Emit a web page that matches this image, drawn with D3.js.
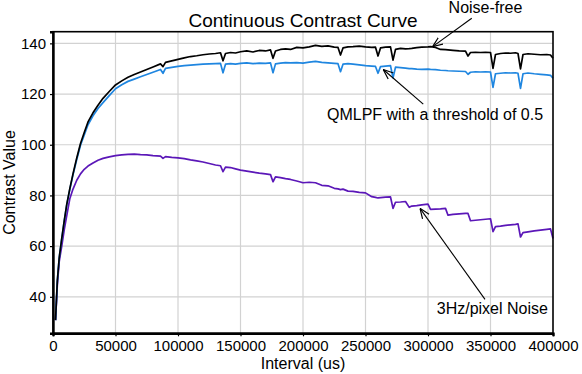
<!DOCTYPE html>
<html>
<head>
<meta charset="utf-8">
<script src="https://cdn.jsdelivr.net/npm/d3@7"></script>
<style>
  body { margin: 0; background: #fff; }
  svg { display: block; font-family: "Liberation Sans", Arial, sans-serif; }
</style>
</head>
<body>
<svg width="582" height="374"></svg>
<script>
// shared x values (us)
const intervals = [2000, 3500, 5000, 7000, 9000, 11000, 13500, 16000, 19000, 22000,
  25000, 28000, 32000, 36000, 40000, 45000, 50000, 55000, 60000, 65000,
  70000, 75000, 80000, 86000, 88000, 90000, 95000, 100000, 105000, 110000,
  115000, 120000, 125000, 130000, 134000, 136000, 138000, 142000, 146000, 150000,
  155000, 160000, 165000, 170000, 174000, 176000, 178000, 182000, 186000, 190000,
  195000, 200000, 205000, 210000, 215000, 220000, 225000, 228000, 230000, 232000,
  236000, 240000, 245000, 250000, 255000, 258000, 260000, 262000, 266000, 270000,
  272000, 274000, 278000, 282000, 285000, 287000, 291000, 295000, 300000, 302000,
  306000, 310000, 314000, 316000, 320000, 325000, 330000, 332000, 334000, 338000,
  342000, 346000, 350000, 352000, 354000, 358000, 362000, 366000, 370000, 372000,
  374000, 376000, 380000, 385000, 390000, 395000, 398000, 400000];

const noiseFree = [30.8, 46.5, 55.5, 63, 70, 76.5, 82.8, 88.5, 94.8, 100.5,
  104.8, 109, 112.6, 115.6, 118.3, 121.0, 123.6, 125.2, 126.6, 127.7,
  128.7, 129.7, 130.7, 131.9, 130.8, 132.5, 133.1, 133.7, 134.3, 134.8,
  135.1, 135.5, 135.8, 136.0, 136.3, 133.1, 136.0, 136.4, 136.2, 136.7,
  137.0, 136.6, 137.2, 137.0, 137.4, 134.1, 137.0, 137.6, 137.8, 137.6,
  138.4, 138.2, 138.6, 139.2, 138.8, 139.0, 138.5, 138.4, 135.4, 138.2,
  138.6, 138.7, 138.9, 138.6, 138.4, 138.5, 135.0, 138.2, 138.5, 138.6,
  133.4, 137.6, 138.0, 137.8, 137.9, 138.0, 138.3, 138.5, 138.6, 138.7,
  138.4, 137.6, 137.5, 137.4, 137.2, 137.0, 136.9, 135.0, 136.4, 136.5,
  136.4, 136.5, 136.4, 130.1, 135.6, 136.0, 136.2, 136.1, 136.3, 136.0,
  129.9, 135.6, 135.9, 135.7, 135.5, 135.6, 135.4, 134.1];

const qmlpf = [30.8, 46.5, 55.5, 63, 70, 76.3, 82.5, 88.1, 94.2, 99.8,
  103.9, 107.9, 111.4, 114.3, 116.6, 119.4, 122.1, 123.7, 125.0, 125.9,
  126.8, 127.7, 128.6, 129.7, 128.2, 130.1, 130.5, 130.9, 131.2, 131.4,
  131.6, 131.8, 131.9, 132.0, 132.1, 128.4, 131.8, 132.0, 131.8, 132.1,
  132.3, 132.0, 132.2, 132.1, 132.3, 128.4, 131.9, 132.2, 132.4, 132.3,
  132.4, 132.2, 132.6, 132.9, 132.5, 132.3, 132.1, 132.0, 128.8, 131.8,
  132.0, 131.8, 131.5, 131.2, 131.0, 130.9, 128.2, 130.8, 131.0, 131.2,
  126.4, 130.6, 130.4, 130.2, 130.0, 130.0, 129.8, 129.7, 129.8, 129.7,
  129.6, 129.4, 129.3, 129.2, 129.1, 129.0, 128.9, 127.8, 128.6, 128.8,
  128.7, 128.8, 128.7, 122.6, 128.0, 128.2, 128.4, 128.3, 128.4, 128.2,
  122.2, 128.0, 128.3, 128.0, 127.8, 127.6, 127.4, 126.2];

const noise3Hz = [30.8, 45, 54, 60, 66.5, 72, 78.8, 82.5, 86, 88.5,
  90.3, 91.6, 92.8, 93.9, 94.6, 95.2, 95.7, 96.0, 96.2, 96.3,
  96.1, 96.0, 95.7, 95.5, 94.6, 95.3, 95.0, 94.8, 94.5, 94.0,
  93.6, 93.2, 92.6, 92.0, 91.7, 89.4, 91.2, 91.0, 90.5, 90.0,
  89.6, 89.2, 88.8, 88.5, 88.2, 85.4, 87.3, 87.0, 86.6, 86.3,
  85.7, 85.0, 85.2, 85.0, 84.0, 83.8, 82.8, 82.6, 82.3, 82.5,
  81.7, 81.6, 81.2, 81.0, 79.5, 79.2, 79.0, 79.1, 79.3, 79.4,
  74.9, 77.3, 77.4, 77.6, 75.3, 75.8, 76.0, 76.3, 76.6, 74.5,
  74.6, 74.7, 74.9, 72.2, 72.5, 72.7, 72.9, 72.9, 70.0, 70.2,
  70.4, 70.6, 70.8, 65.7, 67.7, 67.9, 68.2, 68.4, 68.6, 68.8,
  63.6, 65.3, 65.6, 66.0, 66.3, 66.6, 66.8, 63.0];

const xTicks = [0, 50000, 100000, 150000, 200000, 250000, 300000, 350000, 400000];
const yTicks = [40, 60, 80, 100, 120, 140];

// annotations: text anchor, arrow tail, arrow tip (data units)
const labels = ["Noise-free", "QMLPF with a threshold of 0.5", "3Hz/pixel Noise"];
const labelAt = [[346000, 152], [219200, 109.7], [307000, 33.2]];
const labelAnchor = ["middle", "start", "start"];
const arrowFrom = [[335000, 149.9], [296200, 116.0], [345600, 39.0]];
const arrowTo = [[303700, 138.7], [264200, 129.7], [293600, 74.9]];

const svg = d3.select("svg");
const margin = { top: 31.7, right: 29, bottom: 40.7, left: 53 };
const W = 582, H = 374;

const x = d3.scaleLinear().domain([0, 400000]).range([margin.left, W - margin.right]);
const y = d3.scaleLinear().domain([25.6, 144.6]).range([H - margin.bottom, margin.top]);

// grid
svg.append("g").selectAll("line").data(xTicks.slice(1, -1)).join("line")
  .attr("x1", d => x(d)).attr("x2", d => x(d))
  .attr("y1", y.range()[0]).attr("y2", y.range()[1])
  .attr("stroke", "#d2d2d2").attr("stroke-width", 1.2);
svg.append("g").selectAll("line").data(yTicks).join("line")
  .attr("x1", x.range()[0]).attr("x2", x.range()[1])
  .attr("y1", d => y(d)).attr("y2", d => y(d))
  .attr("stroke", "#d2d2d2").attr("stroke-width", 1.2);

// lines
const line = ys => d3.line().x((d, i) => x(intervals[i])).y(d => y(d))(ys);
const series = [
  { values: noise3Hz, color: "#5b17b8" },
  { values: qmlpf, color: "#1f86e0" },
  { values: noiseFree, color: "#000000" }
];
svg.append("g").selectAll("path").data(series).join("path")
  .attr("d", d => line(d.values))
  .attr("fill", "none")
  .attr("stroke", d => d.color)
  .attr("stroke-width", 1.7)
  .attr("stroke-linejoin", "round");

// frame
svg.append("rect")
  .attr("x", x.range()[0]).attr("y", y.range()[1])
  .attr("width", x.range()[1] - x.range()[0])
  .attr("height", y.range()[0] - y.range()[1])
  .attr("fill", "none").attr("stroke", "#000").attr("stroke-width", 1.6);

// axes
const xAxis = svg.append("g")
  .attr("transform", `translate(0,${y.range()[0]})`)
  .call(d3.axisBottom(x).tickValues(xTicks).tickFormat(d3.format("d")).tickSize(3).tickPadding(4));
const yAxis = svg.append("g")
  .attr("transform", `translate(${x.range()[0]},0)`)
  .call(d3.axisLeft(y).tickValues(yTicks).tickSize(3).tickPadding(4));
[xAxis, yAxis].forEach(g => {
  g.select(".domain").attr("stroke", "#000").attr("stroke-width", 2.4);
  g.selectAll("text").attr("font-size", 15).attr("fill", "#000")
    .attr("font-family", "Liberation Sans, Arial, sans-serif");
  g.selectAll(".tick line").attr("stroke", "#000").attr("stroke-width", 1.2);
});

// titles
svg.append("text")
  .attr("x", (x.range()[0] + x.range()[1]) / 2).attr("y", 27)
  .attr("text-anchor", "middle").attr("font-size", 19)
  .text("Continuous Contrast Curve");
svg.append("text")
  .attr("x", (x.range()[0] + x.range()[1]) / 2).attr("y", 369)
  .attr("text-anchor", "middle").attr("font-size", 16)
  .text("Interval (us)");
svg.append("text")
  .attr("transform", `translate(15,${(y.range()[0] + y.range()[1]) / 2}) rotate(-90)`)
  .attr("text-anchor", "middle").attr("font-size", 16)
  .text("Contrast Value");

// arrows
svg.append("defs").append("marker")
  .attr("id", "head").attr("viewBox", "0 0 10 10")
  .attr("refX", 10).attr("refY", 5)
  .attr("markerWidth", 10).attr("markerHeight", 10)
  .attr("markerUnits", "userSpaceOnUse")
  .attr("orient", "auto")
  .append("path").attr("d", "M0,1 L10,5 L0,9")
  .attr("fill", "none").attr("stroke", "#000").attr("stroke-width", 1.2);

svg.append("g").selectAll("line").data(arrowFrom).join("line")
  .attr("x1", d => x(d[0])).attr("y1", d => y(d[1]))
  .attr("x2", (d, i) => x(arrowTo[i][0])).attr("y2", (d, i) => y(arrowTo[i][1]))
  .attr("stroke", "#000").attr("stroke-width", 1.1)
  .attr("marker-end", "url(#head)");

svg.append("g").selectAll("text").data(labels).join("text")
  .attr("x", (d, i) => x(labelAt[i][0])).attr("y", (d, i) => y(labelAt[i][1]))
  .attr("text-anchor", (d, i) => labelAnchor[i])
  .attr("font-size", 16)
  .text(d => d);
</script>
</body>
</html>
